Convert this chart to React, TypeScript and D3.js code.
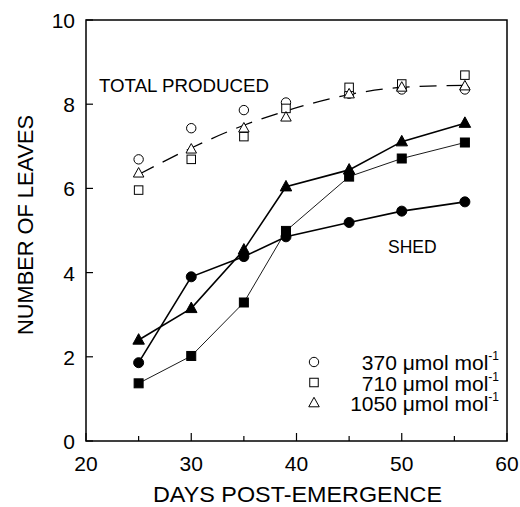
import React from "react";
import * as d3 from "d3";

const days = [25, 30, 35, 39, 45, 50, 56];

// total leaves produced (open symbols)
const total370 = [6.69, 7.43, 7.86, 8.04, 8.25, 8.35, 8.35];
const total710 = [5.96, 6.69, 7.23, 7.9, 8.4, 8.48, 8.69];
const total1050 = [6.36, 6.93, 7.43, 7.69, 8.24, 8.4, 8.43];
// fitted curve through the totals (dashed)
const totalFit = [6.33, 6.96, 7.5, 7.84, 8.23, 8.4, 8.45];

// leaves shed (filled symbols)
const shed370 = [1.86, 3.9, 4.38, 4.85, 5.19, 5.46, 5.68];
const shed710 = [1.37, 2.02, 3.29, 4.99, 6.28, 6.71, 7.09];
const shed1050 = [2.4, 3.15, 4.54, 6.04, 6.44, 7.11, 7.55];

const xTicks = [20, 30, 40, 50, 60];
const xMinor = [25, 35, 45, 55];
const yTicks = [0, 2, 4, 6, 8, 10];
const legendLabels = ["370", "710", "1050"];

const font = "'Liberation Sans', Arial, Helvetica, sans-serif";

const W = 520;
const H = 507;
const m = { left: 86, right: 13, top: 20, bottom: 66 };

function Marker({ type, x, y, filled }: { type: string; x: number; y: number; filled: boolean }) {
  const fill = filled ? "#000" : "#fff";
  if (type === "circle") {
    return <circle cx={x} cy={y} r={filled ? 5 : 4.7} fill={fill} stroke="#000" strokeWidth={1} />;
  }
  if (type === "square") {
    const s = filled ? 9 : 8.5;
    return <rect x={x - s / 2} y={y - s / 2} width={s} height={s} fill={fill} stroke="#000" strokeWidth={1} />;
  }
  const h = filled ? 10.5 : 9.5;
  const w = filled ? 11.5 : 10.5;
  return (
    <path
      d={`M${x},${y - h * 0.6}L${x + w / 2},${y + h * 0.4}L${x - w / 2},${y + h * 0.4}Z`}
      fill={fill}
      stroke="#000"
      strokeWidth={1}
    />
  );
}

export default function App() {
  const x = d3.scaleLinear().domain([20, 60]).range([m.left, W - m.right]);
  const y = d3.scaleLinear().domain([0, 10]).range([H - m.bottom, m.top]);

  const line = d3
    .line<number>()
    .x((_, i) => x(days[i]))
    .y((d) => y(d));
  const fitLine = d3
    .line<number>()
    .x((_, i) => x(days[i]))
    .y((d) => y(d))
    .curve(d3.curveMonotoneX);

  const totals = [
    { type: "circle", v: total370 },
    { type: "square", v: total710 },
    { type: "triangle", v: total1050 },
  ];
  const sheds = [
    { type: "square", v: shed710, w: 0.9 },
    { type: "circle", v: shed370, w: 1.6 },
    { type: "triangle", v: shed1050, w: 1.6 },
  ];

  const x0 = x.range()[0];
  const x1 = x.range()[1];
  const y0 = y.range()[0];
  const y1 = y.range()[1];

  return (
    <svg width={W} height={H} style={{ position: "absolute", left: 0, top: 0 }} fontFamily={font}>
      <rect x={0} y={0} width={W} height={H} fill="#fff" />
      {/* frame */}
      <rect x={x0} y={y1} width={x1 - x0} height={y0 - y1} fill="none" stroke="#000" strokeWidth={1.5} />
      {/* x ticks */}
      {xTicks.map((t) => (
        <g key={"xt" + t}>
          <line x1={x(t)} x2={x(t)} y1={y0} y2={y0 - 8} stroke="#000" strokeWidth={1.2} />
          <text x={x(t)} y={y0 + 30} fontSize={21} textAnchor="middle">
            {t}
          </text>
        </g>
      ))}
      {xMinor.map((t) => (
        <line key={"xm" + t} x1={x(t)} x2={x(t)} y1={y0} y2={y0 - 5} stroke="#000" strokeWidth={1.2} />
      ))}
      {/* y ticks */}
      {yTicks.map((t) => (
        <g key={"yt" + t}>
          <line x1={x0} x2={x0 + 7} y1={y(t)} y2={y(t)} stroke="#000" strokeWidth={1.2} />
          <text x={x0 - 11} y={y(t) + 8} fontSize={21} textAnchor="end">
            {t}
          </text>
        </g>
      ))}
      {/* axis titles */}
      <text x={297.5} y={502} fontSize={21.5} textAnchor="middle" textLength={289} lengthAdjust="spacingAndGlyphs">
        DAYS POST-EMERGENCE
      </text>
      <text
        transform={`translate(33,225) rotate(-90)`}
        fontSize={22}
        textAnchor="middle"
        textLength={220}
        lengthAdjust="spacingAndGlyphs"
      >
        NUMBER OF LEAVES
      </text>

      {/* total produced */}
      <path d={fitLine(totalFit) || ""} fill="none" stroke="#000" strokeWidth={1.3} strokeDasharray="17,10" />
      {totals.map((s) =>
        s.v.map((v, i) => <Marker key={s.type + "t" + i} type={s.type} x={x(days[i])} y={y(v)} filled={false} />)
      )}

      {/* shed */}
      {sheds.map((s) => (
        <path key={"l" + s.type} d={line(s.v) || ""} fill="none" stroke="#000" strokeWidth={s.w} />
      ))}
      {sheds.map((s) =>
        s.v.map((v, i) => <Marker key={s.type + "s" + i} type={s.type} x={x(days[i])} y={y(v)} filled={true} />)
      )}

      {/* annotations */}
      <text x={99} y={92} fontSize={17.5} textLength={170} lengthAdjust="spacingAndGlyphs">
        TOTAL PRODUCED
      </text>
      <text x={388} y={253} fontSize={17.5}>
        SHED
      </text>

      {/* legend */}
      {legendLabels.map((lab, i) => {
        const ly = 370 + i * 20.5;
        const type = ["circle", "square", "triangle"][i];
        return (
          <g key={"lg" + lab}>
            <Marker type={type} x={314} y={ly - 8} filled={false} />
            <text x={499} y={ly} fontSize={21} textAnchor="end">
              {lab} μmol mol
              <tspan dy={-10} fontSize={12}>
                -1
              </tspan>
            </text>
          </g>
        );
      })}
    </svg>
  );
}
